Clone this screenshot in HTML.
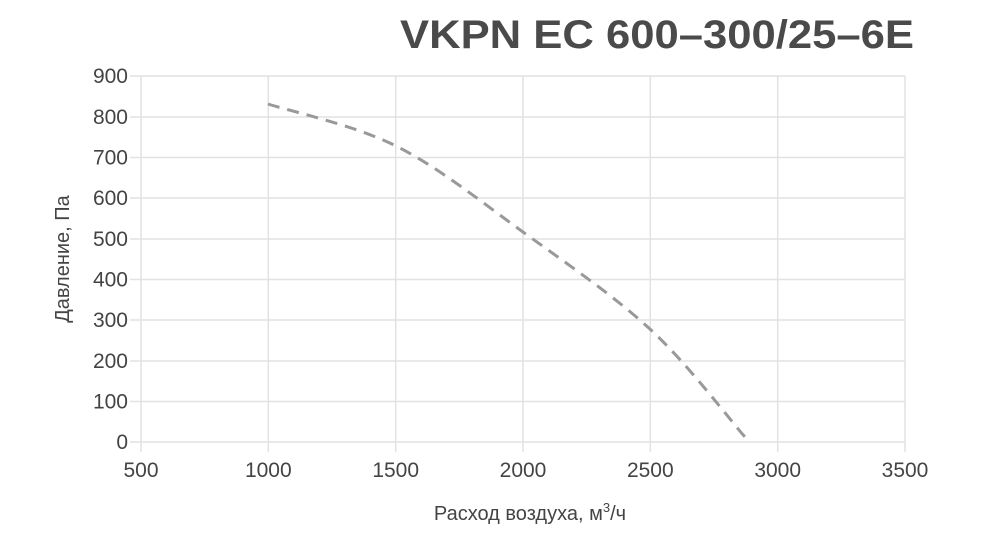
<!DOCTYPE html>
<html><head><meta charset="utf-8"><style>
html,body{margin:0;padding:0;background:#fff;}
svg{display:block;font-family:"Liberation Sans",sans-serif;}
</style></head><body>
<svg width="984" height="537" viewBox="0 0 984 537">
<text x="914" y="48" text-anchor="end" font-size="40" font-weight="bold" fill="#4a4a4a" textLength="514" lengthAdjust="spacingAndGlyphs">VKPN EC 600–300/25–6E</text>
<g stroke="#e2e2e2" stroke-width="1.5">
<line x1="130" y1="76" x2="905" y2="76"/>
<line x1="130" y1="117" x2="905" y2="117"/>
<line x1="130" y1="157.5" x2="905" y2="157.5"/>
<line x1="130" y1="198" x2="905" y2="198"/>
<line x1="130" y1="239" x2="905" y2="239"/>
<line x1="130" y1="279.5" x2="905" y2="279.5"/>
<line x1="130" y1="320" x2="905" y2="320"/>
<line x1="130" y1="361" x2="905" y2="361"/>
<line x1="130" y1="401.5" x2="905" y2="401.5"/>
<line x1="130" y1="442" x2="905" y2="442"/>
<line x1="141" y1="76" x2="141" y2="452"/>
<line x1="268.3" y1="76" x2="268.3" y2="452"/>
<line x1="395.7" y1="76" x2="395.7" y2="452"/>
<line x1="523" y1="76" x2="523" y2="452"/>
<line x1="650.3" y1="76" x2="650.3" y2="452"/>
<line x1="777.7" y1="76" x2="777.7" y2="452"/>
<line x1="905" y1="76" x2="905" y2="452"/>
</g>
<g font-size="21" fill="#444" text-anchor="end">
<text x="128" y="83">900</text><text x="128" y="124">800</text><text x="128" y="164.5">700</text>
<text x="128" y="205">600</text><text x="128" y="246">500</text><text x="128" y="286.5">400</text>
<text x="128" y="327">300</text><text x="128" y="368">200</text><text x="128" y="408.5">100</text>
<text x="128" y="449">0</text>
</g>
<g font-size="21" fill="#444" text-anchor="middle">
<text x="141" y="477">500</text><text x="268.3" y="477">1000</text><text x="395.7" y="477">1500</text>
<text x="523" y="477">2000</text><text x="650.3" y="477">2500</text><text x="777.7" y="477">3000</text>
<text x="905" y="477">3500</text>
</g>
<text x="530" y="520" text-anchor="middle" font-size="20" fill="#444">Расход воздуха, м<tspan dy="-8" font-size="13">3</tspan><tspan dy="8">/ч</tspan></text>
<text transform="translate(69,259) rotate(-90)" text-anchor="middle" font-size="20" fill="#444">Давление, Па</text>
<path d="M268,104 C289.3,111 353.5,124.7 396,146 C438.5,167.3 480.5,201.3 523,232 C565.5,262.7 614,295.8 651,330 C688,364.2 729.3,419.2 745,437" fill="none" stroke="#999" stroke-width="3" stroke-dasharray="12,8"/>
</svg>
</body></html>
